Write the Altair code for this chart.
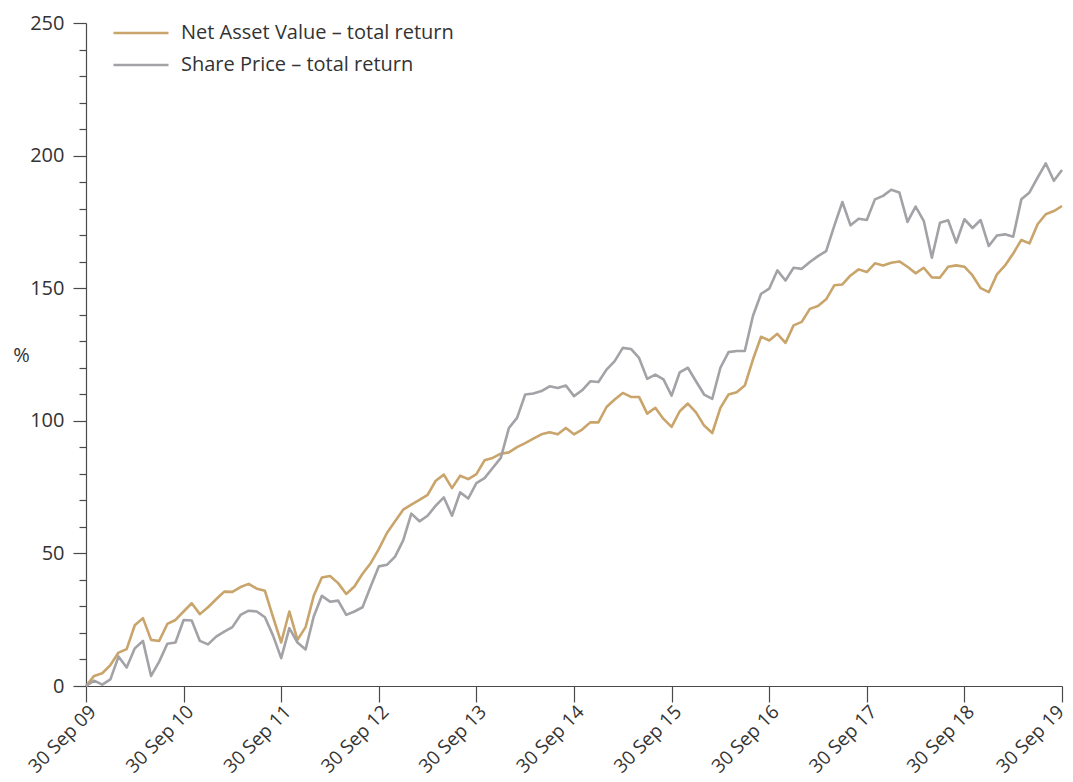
import json
import altair as alt
import pandas as pd

series_names = ["Net Asset Value – total return", "Share Price – total return"]
series_colors = ["#c9a46b", "#a2a2a7"]

months = list(range(121))

nav = [0, 3.8, 4.8, 7.9, 12.6, 13.9, 22.9, 25.6, 17.4, 17.0,
       23.4, 24.9, 28.1, 31.2, 27.1, 29.7, 32.7, 35.6, 35.5, 37.3,
       38.5, 36.7, 35.9, 26.0, 16.4, 28.1, 17.4, 22.2, 34.0, 40.9,
       41.5, 38.8, 34.7, 37.5, 42.3, 46.3, 51.6, 57.7, 62.1, 66.5,
       68.4, 70.2, 72.1, 77.4, 79.7, 74.6, 79.3, 78.0, 79.9, 85.1,
       86.0, 87.6, 88.1, 90.1, 91.6, 93.3, 94.9, 95.7, 94.9, 97.3,
       94.9, 96.7, 99.4, 99.4, 105.2, 108.0, 110.5, 109.0, 109.0, 102.7,
       104.9, 100.7, 97.7, 103.6, 106.5, 103.2, 98.2, 95.4, 104.9, 109.9,
       110.8, 113.3, 123.1, 131.7, 130.3, 132.8, 129.4, 136.0, 137.3, 142.2,
       143.3, 145.8, 151.1, 151.4, 154.8, 157.1, 156.1, 159.4, 158.6, 159.6,
       160.1, 158.1, 155.6, 157.7, 154.1, 154.0, 158.1, 158.6, 158.1, 154.8,
       150.0, 148.5, 155.2, 158.6, 163.1, 168.2, 166.9, 174.1, 177.9, 179.1,
       181.0]

share_price = [0, 2.0, 0.5, 2.5, 11.1, 7.0, 14.2, 17.0, 3.8, 9.2,
               15.9, 16.4, 24.9, 24.7, 17.0, 15.7, 18.6, 20.5, 22.2, 26.8,
               28.4, 28.1, 25.9, 19.0, 10.5, 21.8, 16.4, 13.8, 26.2, 34.0,
               31.8, 32.2, 26.8, 28.1, 29.7, 37.5, 45.1, 45.7, 48.8, 54.9,
               65.0, 62.1, 64.2, 68.0, 71.1, 64.2, 73.0, 70.7, 76.5, 78.4,
               82.2, 86.0, 97.3, 101.1, 109.9, 110.3, 111.2, 113.0, 112.4, 113.3,
               109.3, 111.5, 114.9, 114.6, 119.3, 122.5, 127.5, 127.1, 123.7, 115.8,
               117.4, 115.6, 109.5, 118.3, 120.0, 114.9, 109.9, 108.3, 120.0, 125.9,
               126.3, 126.3, 139.5, 147.9, 149.8, 156.7, 152.9, 157.7, 157.3, 159.9,
               162.1, 164.0, 173.5, 182.5, 173.7, 176.2, 175.7, 183.5, 184.8, 187.1,
               186.1, 175.0, 180.8, 175.4, 161.5, 174.7, 175.6, 167.2, 176.0, 172.7,
               175.7, 165.9, 169.9, 170.3, 169.4, 183.5, 186.1, 191.7, 197.1, 190.5,
               194.6]

x_tick_values = [0, 12, 24, 36, 48, 60, 72, 84, 96, 108, 120]
x_tick_labels = ["30 Sep 09", "30 Sep 10", "30 Sep 11", "30 Sep 12", "30 Sep 13",
                 "30 Sep 14", "30 Sep 15", "30 Sep 16", "30 Sep 17", "30 Sep 18",
                 "30 Sep 19"]
y_tick_values = list(range(0, 251, 10))   # labelled every 50, minor every 10

rows = []
for name, vals in zip(series_names, [nav, share_price]):
    for m, v in zip(months, vals):
        rows.append({"month": m, "value": v, "series": name})
df = pd.DataFrame(rows)

FONT = "Open Sans"
FS = 20
XFS = 19
AXIS_COLOR = "#4a4a4a"
TEXT_COLOR = "#333333"

x_label_expr = json.dumps(x_tick_labels) + "[round(datum.value / 12)]"
major = "datum.value % 50 === 0"

chart = alt.Chart(df).mark_line(strokeWidth=2.6, strokeJoin="round").encode(
    x=alt.X("month:Q",
            scale=alt.Scale(domain=[0, 120], nice=False, zero=False),
            axis=alt.Axis(orient="bottom", values=x_tick_values, labelExpr=x_label_expr,
                          labelAngle=-45, tickSize=16, labelPadding=0,
                          labelOffset={"condition": {"test": "datum.value >= 120",
                                                     "value": -8}, "value": 0},
                          grid=False, title=None, labelFontSize=XFS, labelFont=FONT,
                          labelColor=TEXT_COLOR, labelFlush=False, labelOverlap=False,
                          domainColor=AXIS_COLOR, tickColor=AXIS_COLOR,
                          domainWidth=1.2, tickWidth=1.2)),
    y=alt.Y("value:Q",
            scale=alt.Scale(domain=[0, 250], nice=False, zero=True),
            axis=alt.Axis(orient="left", values=y_tick_values,
                          labelExpr=f"{major} ? datum.label : ''",
                          tickSize={"condition": {"test": major, "value": 13}, "value": 7},
                          labelPadding=9, grid=False,
                          title="%", titleAngle=0, titleX=-65, titleY=332,
                          titleAlign="center", titleBaseline="middle",
                          titleFontSize=FS, titleFont=FONT, titleFontWeight="normal",
                          titleColor=TEXT_COLOR,
                          labelFontSize=FS, labelFont=FONT, labelColor=TEXT_COLOR,
                          labelFlush=False, labelOverlap=False,
                          domainColor=AXIS_COLOR, tickColor=AXIS_COLOR,
                          domainWidth=1.2, tickWidth=1.2)),
    color=alt.Color("series:N",
                    scale=alt.Scale(domain=series_names, range=series_colors),
                    legend=alt.Legend(orient="none", legendX=26, legendY=-6, title=None,
                                      symbolType="stroke", symbolSize=3025,
                                      symbolStrokeWidth=2.6, clipHeight=32,
                                      rowPadding=0, labelOffset=11, padding=0,
                                      labelFontSize=FS, labelFont=FONT,
                                      labelColor=TEXT_COLOR, labelLimit=400)),
).properties(
    width=976, height=663,
    autosize=alt.AutoSizeParams(type="none"),
    padding={"left": 78, "top": 15, "right": 3, "bottom": 88},
    background="white",
).configure(font=FONT).configure_view(strokeWidth=0, stroke="transparent")

chart.save("out.html", embed_options={"renderer": "svg", "actions": False})
